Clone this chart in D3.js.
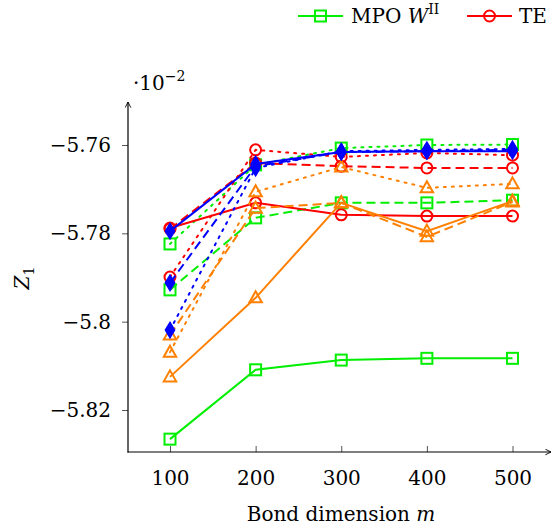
<!DOCTYPE html>
<html>
<head>
<meta charset="utf-8">
<script src="https://cdn.jsdelivr.net/npm/d3@7"></script>
<style>
  html, body { margin: 0; padding: 0; background: #fff; }
  svg { display: block; }
</style>
</head>
<body>
<svg id="chart" width="554" height="529"></svg>
<script>
// ---- data ----
const mValues = [100, 200, 300, 400, 500];
const xTickLabels = ["100", "200", "300", "400", "500"];
const yTickValues = [-5.82, -5.8, -5.78, -5.76];
const yTickLabels = ["\u22125.82", "\u22125.8", "\u22125.78", "\u22125.76"];

const greenSolid   = [-5.8266, -5.8109, -5.8087, -5.8083, -5.8083];
const greenDashed  = [-5.7928, -5.7765, -5.7731, -5.7731, -5.7725];
const greenDotted  = [-5.7824, -5.7645, -5.7607, -5.7600, -5.7599];
const redSolid     = [-5.7788, -5.7731, -5.7758, -5.7761, -5.7761];
const redDashed    = [-5.7790, -5.7641, -5.7648, -5.7652, -5.7652];
const redDotted    = [-5.7899, -5.7611, -5.7627, -5.7618, -5.7623];
const orangeSolid  = [-5.8125, -5.7946, -5.7731, -5.7795, -5.7727];
const orangeDashed = [-5.8030, -5.7743, -5.7731, -5.7808, -5.7729];
const orangeDotted = [-5.8069, -5.7706, -5.7650, -5.7697, -5.7688];
const blueSolid    = [-5.7795, -5.7643, -5.7616, -5.7614, -5.7614];
const blueDashed   = [-5.7912, -5.7648, -5.7616, -5.7614, -5.7611];
const blueDotted   = [-5.8019, -5.7652, -5.7614, -5.7611, -5.7609];

const legendLabels = ["MPO", "TE"];

// ---- styles ----
const GREEN = "#00ee00", RED = "#ff0000", ORANGE = "#ff8000", BLUE = "#0000ff";
const DASH = { solid: null, dashed: "9,5", dotted: "2,6" };
const FONT = "'DejaVu Serif', 'Liberation Serif', serif";
const FS = 20, FS_SUB = 14;

const series = [
  { v: greenSolid,   c: GREEN,  s: "solid",  m: "square" },
  { v: greenDashed,  c: GREEN,  s: "dashed", m: "square" },
  { v: greenDotted,  c: GREEN,  s: "dotted", m: "square" },
  { v: redSolid,     c: RED,    s: "solid",  m: "circle" },
  { v: redDashed,    c: RED,    s: "dashed", m: "circle" },
  { v: redDotted,    c: RED,    s: "dotted", m: "circle" },
  { v: orangeSolid,  c: ORANGE, s: "solid",  m: "triangle" },
  { v: orangeDashed, c: ORANGE, s: "dashed", m: "triangle" },
  { v: orangeDotted, c: ORANGE, s: "dotted", m: "triangle" },
  { v: blueSolid,    c: BLUE,   s: "solid",  m: "diamond" },
  { v: blueDashed,   c: BLUE,   s: "dashed", m: "diamond" },
  { v: blueDotted,   c: BLUE,   s: "dotted", m: "diamond" }
];

const svg = d3.select("#chart");
const x = d3.scaleLinear().domain([100, 500]).range([170, 512.5]);
const y = d3.scaleLinear().domain([-5.82, -5.76]).range([410, 145]);
const axisX0 = 128, axisY0 = 452;

// arrow marker
const defs = svg.append("defs");
defs.append("marker").attr("id", "arr").attr("viewBox", "0 0 10 10")
  .attr("refX", 9).attr("refY", 5).attr("markerWidth", 7).attr("markerHeight", 7)
  .attr("orient", "auto").attr("markerUnits", "userSpaceOnUse")
  .append("path").attr("d", "M1,1 L9,5 L1,9").attr("fill", "none")
  .attr("stroke", "#000").attr("stroke-width", 1.3);

// axes
const yAxis = d3.axisLeft(y).tickValues(yTickValues)
  .tickFormat((d, i) => yTickLabels[i]).tickSize(6).tickPadding(11);
const gy = svg.append("g").attr("transform", `translate(${axisX0},0)`).call(yAxis)
  .attr("font-family", FONT);
gy.select(".domain").remove();
gy.selectAll(".tick line").attr("stroke", "#555").attr("stroke-width", 1);
gy.selectAll(".tick text").attr("font-size", FS).attr("fill", "#000").attr("font-family", FONT);

const xAxis = d3.axisBottom(x).tickValues(mValues)
  .tickFormat((d, i) => xTickLabels[i]).tickSize(-6).tickPadding(14);
const gx = svg.append("g").attr("transform", `translate(0,${axisY0})`).call(xAxis)
  .attr("font-family", FONT);
gx.select(".domain").remove();
gx.selectAll(".tick line").attr("stroke", "#555").attr("stroke-width", 1);
gx.selectAll(".tick text").attr("font-size", FS).attr("fill", "#000")
  .attr("font-family", FONT).attr("dy", "0.95em");

svg.append("line").attr("x1", axisX0).attr("y1", axisY0 + 0.5).attr("x2", axisX0).attr("y2", 102)
  .attr("stroke", "#000").attr("stroke-width", 1.2).attr("marker-end", "url(#arr)");
svg.append("line").attr("x1", axisX0 - 0.5).attr("y1", axisY0).attr("x2", 551).attr("y2", axisY0)
  .attr("stroke", "#000").attr("stroke-width", 1.2).attr("marker-end", "url(#arr)");

// axis labels
svg.append("text").attr("x", 341).attr("y", 521).attr("text-anchor", "middle")
  .attr("font-size", FS).attr("font-family", FONT)
  .html('Bond dimension <tspan font-style="italic">m</tspan>');
svg.append("text").attr("transform", "translate(29,278) rotate(-90)").attr("text-anchor", "middle")
  .attr("font-size", FS).attr("font-family", FONT)
  .html('<tspan font-style="italic">Z</tspan><tspan font-size="' + FS_SUB + '" dy="5">1</tspan>');
svg.append("text").attr("x", 133).attr("y", 90).attr("font-size", FS).attr("font-family", FONT)
  .html('\u00b710<tspan font-size="' + FS_SUB + '" dy="-9">\u22122</tspan>');

// marker drawing
function drawMarker(g, shape, cx, cy, color) {
  if (shape === "square") {
    g.append("rect").attr("x", cx - 5.5).attr("y", cy - 5.5).attr("width", 11).attr("height", 11)
      .attr("fill", "none").attr("stroke", color).attr("stroke-width", 2);
  } else if (shape === "circle") {
    g.append("circle").attr("cx", cx).attr("cy", cy).attr("r", 5.5)
      .attr("fill", "none").attr("stroke", color).attr("stroke-width", 2);
  } else if (shape === "triangle") {
    g.append("path").attr("d", `M${cx},${cy - 6.5} L${cx + 6.2},${cy + 4.5} L${cx - 6.2},${cy + 4.5} Z`)
      .attr("fill", "none").attr("stroke", color).attr("stroke-width", 2).attr("stroke-linejoin", "miter");
  } else if (shape === "diamond") {
    g.append("path").attr("d", `M${cx},${cy - 8} L${cx + 4.8},${cy} L${cx},${cy + 8} L${cx - 4.8},${cy} Z`)
      .attr("fill", color).attr("stroke", color).attr("stroke-width", 1.2);
  }
}

const line = d3.line().x(d => x(d[0])).y(d => y(d[1]));
const plot = svg.append("g");
series.forEach(sr => {
  const pts = mValues.map((m, i) => [m, sr.v[i]]);
  const g = plot.append("g");
  g.append("path").attr("d", line(pts)).attr("fill", "none").attr("stroke", sr.c)
    .attr("stroke-width", 2).attr("stroke-dasharray", DASH[sr.s])
    .attr("stroke-linecap", sr.s === "dotted" ? "round" : "butt");
  pts.forEach(p => drawMarker(g, sr.m, x(p[0]), y(p[1]), sr.c));
});

// legend
const lg = svg.append("g");
lg.append("line").attr("x1", 298).attr("x2", 343).attr("y1", 16).attr("y2", 16)
  .attr("stroke", GREEN).attr("stroke-width", 2);
drawMarker(lg, "square", 320.5, 16, GREEN);
lg.append("text").attr("x", 351).attr("y", 23).attr("font-size", FS).attr("font-family", FONT)
  .html(legendLabels[0] + ' <tspan font-style="italic">W</tspan><tspan font-size="' + FS_SUB + '" dy="-9">II</tspan>');
lg.append("line").attr("x1", 467).attr("x2", 512).attr("y1", 16).attr("y2", 16)
  .attr("stroke", RED).attr("stroke-width", 2);
drawMarker(lg, "circle", 489.5, 16, RED);
lg.append("text").attr("x", 519).attr("y", 23).attr("font-size", FS).attr("font-family", FONT)
  .text(legendLabels[1]);
</script>
</body>
</html>
